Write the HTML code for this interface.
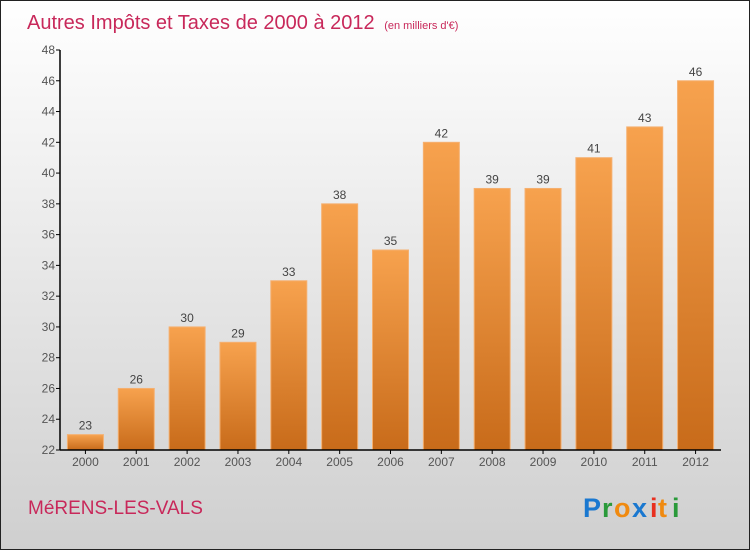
<!DOCTYPE html>
<html><head><meta charset="utf-8"><style>
html,body{margin:0;padding:0}
body{width:750px;height:550px;overflow:hidden;font-family:"Liberation Sans",sans-serif}
</style></head><body>
<svg id="chart" width="750" height="550" xmlns="http://www.w3.org/2000/svg">
<defs>
<linearGradient id="bg" x1="0" y1="0" x2="0" y2="1"><stop offset="0" stop-color="#ffffff"/><stop offset="1" stop-color="#cfcfcf"/></linearGradient>
<linearGradient id="bar" x1="0" y1="0" x2="0" y2="1"><stop offset="0" stop-color="#f7a24e"/><stop offset="1" stop-color="#c86b1a"/></linearGradient>
</defs>
<rect x="0.5" y="0.5" width="749" height="549" fill="url(#bg)" stroke="#222"/>
<text x="27" y="29" font-size="20" fill="#c8285a">Autres Impôts et Taxes de 2000 à 2012 <tspan font-size="11" dx="4">(en milliers d'€)</tspan></text>
<g id="bars"></g>
<g id="axes"></g>
<text x="28" y="514" font-size="19" fill="#c8285a">MéRENS-LES-VALS</text>
<g font-size="27" font-weight="bold" font-family="Liberation Sans, sans-serif">
<text x="583" y="517" fill="#1a78d0">P</text><text x="602" y="517" fill="#2a9a3a">r</text><text x="614" y="517" fill="#f08a10">o</text><text x="632" y="517" fill="#1a78d0">x</text><text x="650" y="517" fill="#e83020">i</text><text x="658" y="517" fill="#f08a10">t</text><text x="672" y="517" fill="#2a9a3a">i</text>
</g>
</svg>
<script>
const categories=["2000","2001","2002","2003","2004","2005","2006","2007","2008","2009","2010","2011","2012"];
const values=[23,26,30,29,33,38,35,42,39,39,41,43,46];
const yTicks=[22,24,26,28,30,32,34,36,38,40,42,44,46,48];
const NS="http://www.w3.org/2000/svg";
const x0=60,x1=721,yTop=50,yBot=450,yMin=22,yMax=48;
const y=v=>yBot-(v-yMin)/(yMax-yMin)*(yBot-yTop);
const step=(x1-x0)/categories.length;
const xc=i=>x0+step*(i+0.5);
function mk(t,a,p){const e=document.createElementNS(NS,t);for(const k in a)e.setAttribute(k,a[k]);p.appendChild(e);return e;}
const bars=document.getElementById('bars'),axes=document.getElementById('axes');
yTicks.forEach(v=>{
 const t=mk('line',{x1:x0-4,x2:x0,y1:y(v),y2:y(v),stroke:'#000'},axes);
 
 
 const l=mk('text',{x:x0-5,y:y(v)+4,'font-size':12,fill:'#555','text-anchor':'end'},axes);
 l.textContent=v;
 
 
});
categories.forEach((c,i)=>{
 const w=36,top=y(values[i]);
 const r=mk('rect',{x:xc(i)-w/2,y:top,width:w,height:yBot-top,fill:'url(#bar)',stroke:'#f5b070','stroke-width':1},bars);
 
 
 const v=mk('text',{x:xc(i),y:top-5,'font-size':12,fill:'#444','text-anchor':'middle'},bars);
 v.textContent=values[i];
 
 
 const t=mk('line',{x1:xc(i),x2:xc(i),y1:yBot,y2:yBot+4,stroke:'#000'},axes);
 
 
 const l=mk('text',{x:xc(i),y:yBot+16,'font-size':12,fill:'#555','text-anchor':'middle'},axes);
 l.textContent=c;
 
 
});
const ya=mk('line',{x1:x0,x2:x0,y1:yTop,y2:yBot,stroke:'#000','stroke-width':1.5},axes);


const xa=mk('line',{x1:x0,x2:x1,y1:yBot,y2:yBot,stroke:'#000','stroke-width':1.5},axes);


</script>
</body></html>
